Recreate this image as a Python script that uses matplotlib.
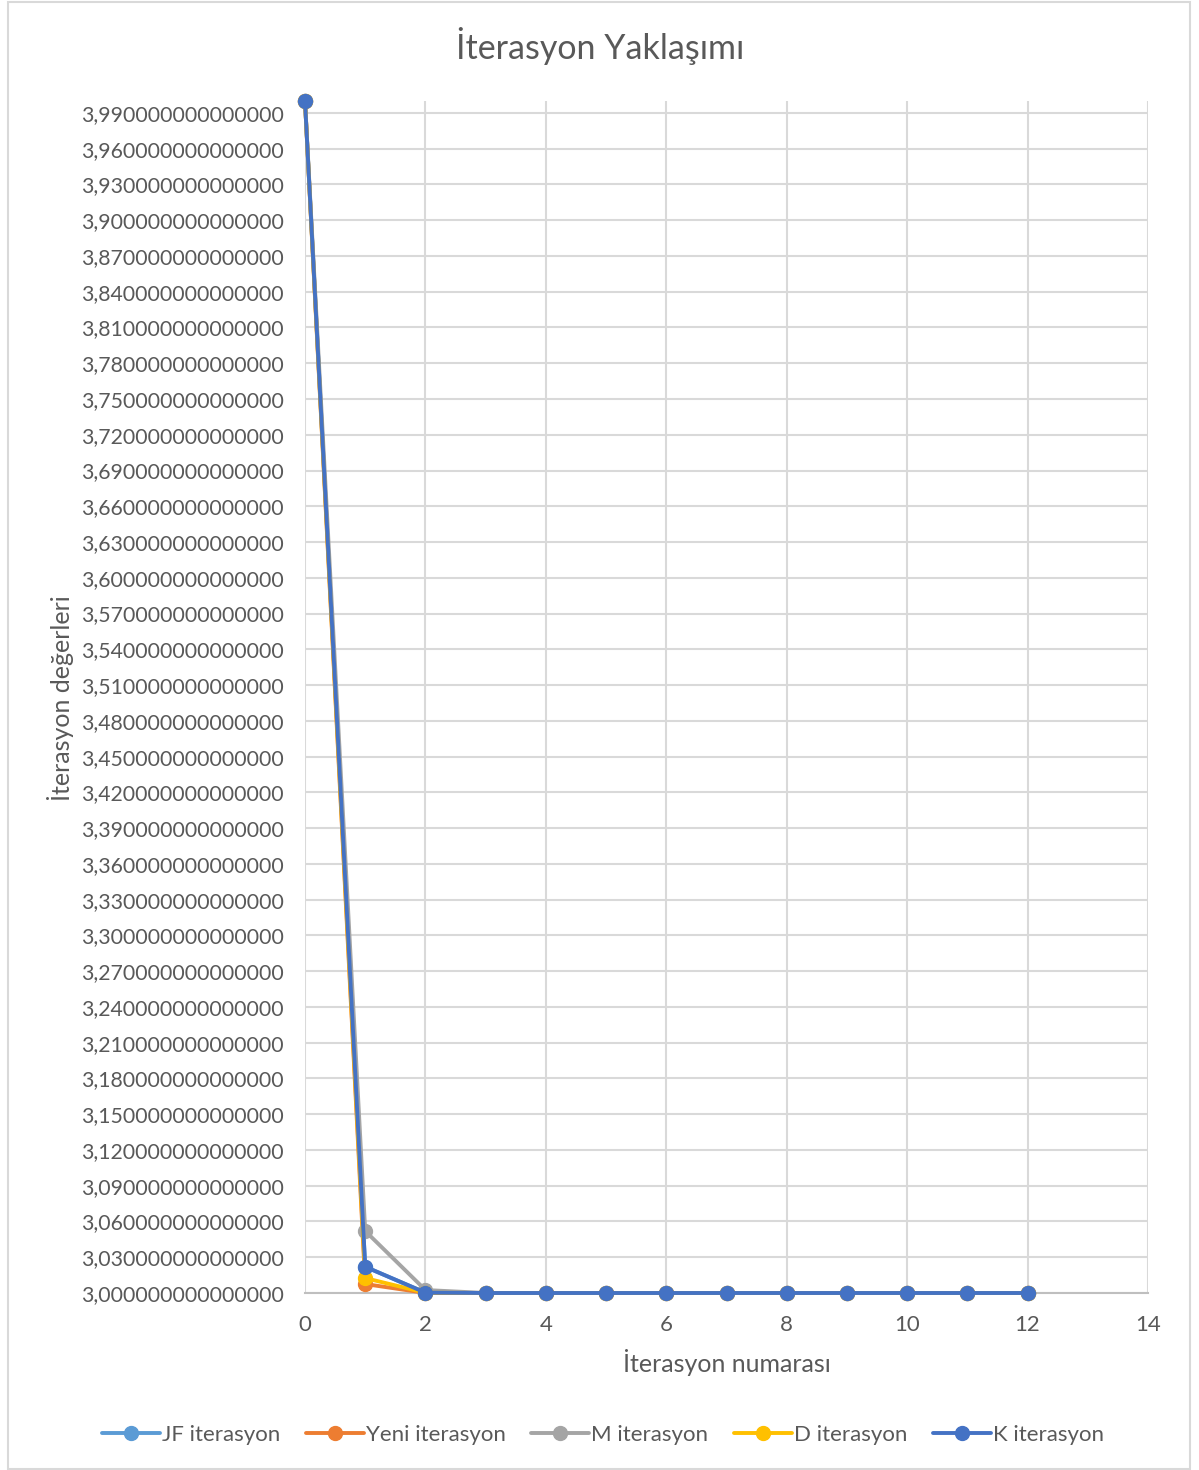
import matplotlib
matplotlib.use("Agg")
import matplotlib.pyplot as plt
from matplotlib.patches import Rectangle
from matplotlib.ticker import FuncFormatter, MultipleLocator

plt.rcParams['font.family'] = ['Lato', 'DejaVu Sans']

iterations = [0, 1, 2, 3, 4, 5, 6, 7, 8, 9, 10, 11, 12]
jf_values   = [4.0, 3.022, 3.0003, 3.0, 3.0, 3.0, 3.0, 3.0, 3.0, 3.0, 3.0, 3.0, 3.0]
yeni_values = [4.0, 3.0075, 3.0001, 3.0, 3.0, 3.0, 3.0, 3.0, 3.0, 3.0, 3.0, 3.0, 3.0]
m_values    = [4.0, 3.052, 3.0025, 3.0, 3.0, 3.0, 3.0, 3.0, 3.0, 3.0, 3.0, 3.0, 3.0]
d_values    = [4.0, 3.0125, 3.0002, 3.0, 3.0, 3.0, 3.0, 3.0, 3.0, 3.0, 3.0, 3.0, 3.0]
k_values    = [4.0, 3.022, 3.0003, 3.0, 3.0, 3.0, 3.0, 3.0, 3.0, 3.0, 3.0, 3.0, 3.0]

series_names = ["JF iterasyon", "Yeni iterasyon", "M iterasyon", "D iterasyon", "K iterasyon"]
series_colors = ["#5B9BD5", "#ED7D31", "#A5A5A5", "#FFC000", "#4472C4"]
series_values = [jf_values, yeni_values, m_values, d_values, k_values]

title = "İterasyon Yaklaşımı"
xlabel = "İterasyon numarası"
ylabel = "İterasyon değerleri"

W, H = 1199, 1470
fig = plt.figure(figsize=(W / 100, H / 100), dpi=100)
ax = fig.add_axes([305 / W, 1 - 1293 / H, (1148 - 305) / W, (1293 - 101) / H])

for name, color, vals in zip(series_names, series_colors, series_values):
    ax.plot(iterations, vals, color=color, lw=2.8, marker='o', markersize=10,
            label=name, solid_capstyle='round', zorder=3, clip_on=False)

ax.set_xlim(0, 14)
ax.set_ylim(3.0, 4.0)
ax.xaxis.set_major_locator(MultipleLocator(2))
ax.set_yticks([3.0 + 0.03 * i for i in range(34)])
ax.yaxis.set_major_formatter(FuncFormatter(lambda v, p: f"{v:.15f}".replace('.', ',')))

txt = '#595959'
ax.tick_params(axis='both', length=0, labelsize=15.3, labelcolor=txt)
ax.tick_params(axis='x', labelsize=16, pad=16)
ax.tick_params(axis='y', pad=15)
ax.grid(True, color='#D9D9D9', lw=1.5, zorder=0)
for s in ['top', 'right', 'left']:
    ax.spines[s].set_visible(False)
ax.spines['bottom'].set_color('#BFBFBF')
ax.spines['bottom'].set_linewidth(1.5)
ax.set_axisbelow(True)

fig.text(600 / W, 1 - 46 / H, title, ha='center', va='center', fontsize=24.5, color=txt)
fig.text(727 / W, 1 - 1363 / H, xlabel, ha='center', va='center', fontsize=18, color=txt)
fig.text(60 / W, 1 - 698 / H, ylabel, ha='center', va='center', fontsize=18, color=txt, rotation=90)

leg = fig.legend(loc='center', bbox_to_anchor=(603 / W, 1 - 1435 / H), ncol=5, frameon=False,
                 fontsize=16, handlelength=2.6, handletextpad=0.1, columnspacing=1.15)
for t in leg.get_texts():
    t.set_color(txt)

fig.patches.append(Rectangle((8 / W, 1 / H), (1190 - 8) / W, (H - 3) / H, transform=fig.transFigure,
                             fill=False, edgecolor='#D9D9D9', lw=1.5))

fig.savefig("out.png", dpi=100)
